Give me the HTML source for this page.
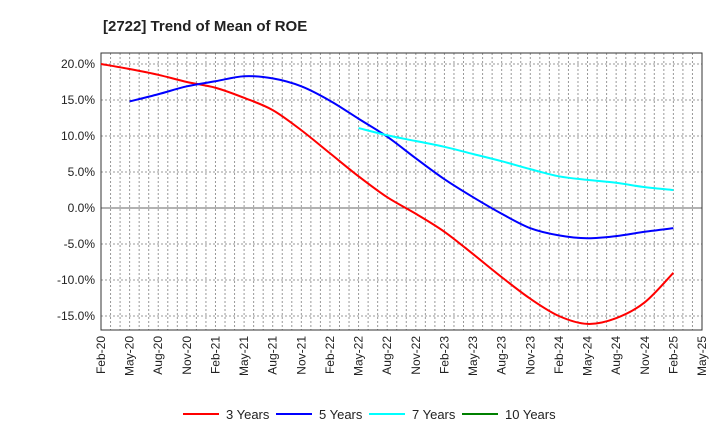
<!DOCTYPE html>
<html><head><meta charset="utf-8"><style>
body{margin:0;background:#fff;font-family:"Liberation Sans",sans-serif;}
</style></head><body>
<svg id="c" width="720" height="440" xmlns="http://www.w3.org/2000/svg">
<text x="103" y="31" font-size="15" font-weight="bold" fill="#222">[2722]  Trend of Mean of ROE</text>
<g id="grid"></g><g id="axes"></g><g id="series"></g><g id="legend"></g>
</svg>
<script>
const categories=["Feb-20","May-20","Aug-20","Nov-20","Feb-21","May-21","Aug-21","Nov-21","Feb-22","May-22","Aug-22","Nov-22","Feb-23","May-23","Aug-23","Nov-23","Feb-24","May-24","Aug-24","Nov-24","Feb-25","May-25"];
const yTicks=[20,15,10,5,0,-5,-10,-15];
const y3=[20.0,19.3,18.5,17.5,16.7,15.3,13.6,10.8,7.6,4.4,1.5,-0.8,-3.3,-6.4,-9.6,-12.6,-15.0,-16.1,-15.3,-13.1,-9.0];
const y5=[null,14.8,15.8,16.9,17.6,18.3,18.0,16.9,14.9,12.4,9.9,6.9,4.0,1.5,-0.8,-2.8,-3.8,-4.2,-3.9,-3.3,-2.8];
const y7=[null,null,null,null,null,null,null,null,null,11.1,10.1,9.3,8.5,7.5,6.5,5.4,4.4,3.9,3.5,2.9,2.5];
const y10=[];
const L=101,R=702,T=53,B=330;
const xs=i=>L+i*(R-L)/21;
const ys=v=>208-v*7.2;
const NS="http://www.w3.org/2000/svg";
function mk(p,t,a){const e=document.createElementNS(NS,t);for(const k in a)e.setAttribute(k,a[k]);p.appendChild(e);return e;}
const g=document.getElementById('grid'),ax=document.getElementById('axes'),se=document.getElementById('series'),lg=document.getElementById('legend');
for(let m=1;m<63;m++){const x=L+m*(R-L)/63;const l=mk(g,'line',{x1:x,x2:x,y1:T,y2:B,stroke:'#999','stroke-dasharray':'2,2','stroke-width':1});

}
yTicks.forEach(v=>{const y=ys(v);const l=mk(g,'line',{x1:L,x2:R,y1:y,y2:y,stroke:v===0?'#666':'#999','stroke-dasharray':v===0?'none':'2,2','stroke-width':1});


const t=mk(ax,'text',{x:L-6,y:y+4,'text-anchor':'end','font-size':12,fill:'#222'});t.textContent=v.toFixed(1)+'%';

});
const fr=mk(ax,'rect',{x:L,y:T,width:R-L,height:B-T,fill:'none',stroke:'#333','stroke-width':1});


categories.forEach((c,i)=>{const x=xs(i);const t=mk(ax,'text',{x:0,y:0,'text-anchor':'end','font-size':12,fill:'#222',transform:`translate(${x+4},${B+6}) rotate(-90)`});t.textContent=c;

});
function path(arr){const p=[];arr.forEach((v,i)=>{if(v!=null)p.push([xs(i),ys(v)]);});if(p.length<2)return'';
let d=`M${p[0][0]},${p[0][1]}`;for(let i=0;i<p.length-1;i++){const p0=p[i-1]||p[i],p1=p[i],p2=p[i+1],p3=p[i+2]||p2;
d+=` C${p1[0]+(p2[0]-p0[0])/6},${p1[1]+(p2[1]-p0[1])/6} ${p2[0]-(p3[0]-p1[0])/6},${p2[1]-(p3[1]-p1[1])/6} ${p2[0]},${p2[1]}`;}return d;}
const S=[["3 Years",y3,"#ff0000"],["5 Years",y5,"#0000ff"],["7 Years",y7,"#00ffff"],["10 Years",y10,"#008000"]];
S.forEach(([n,a,c],k)=>{const d=path(a);if(d){const l=mk(se,'path',{d:d,fill:'none',stroke:c,'stroke-width':2});

}
const lx=[183,276,369,462][k];
const li=mk(lg,'line',{x1:lx,x2:lx+36,y1:414,y2:414,stroke:c,'stroke-width':2});


const t=mk(lg,'text',{x:lx+43,y:419,'font-size':13,fill:'#222'});t.textContent=n;

});
</script>
</body></html>
